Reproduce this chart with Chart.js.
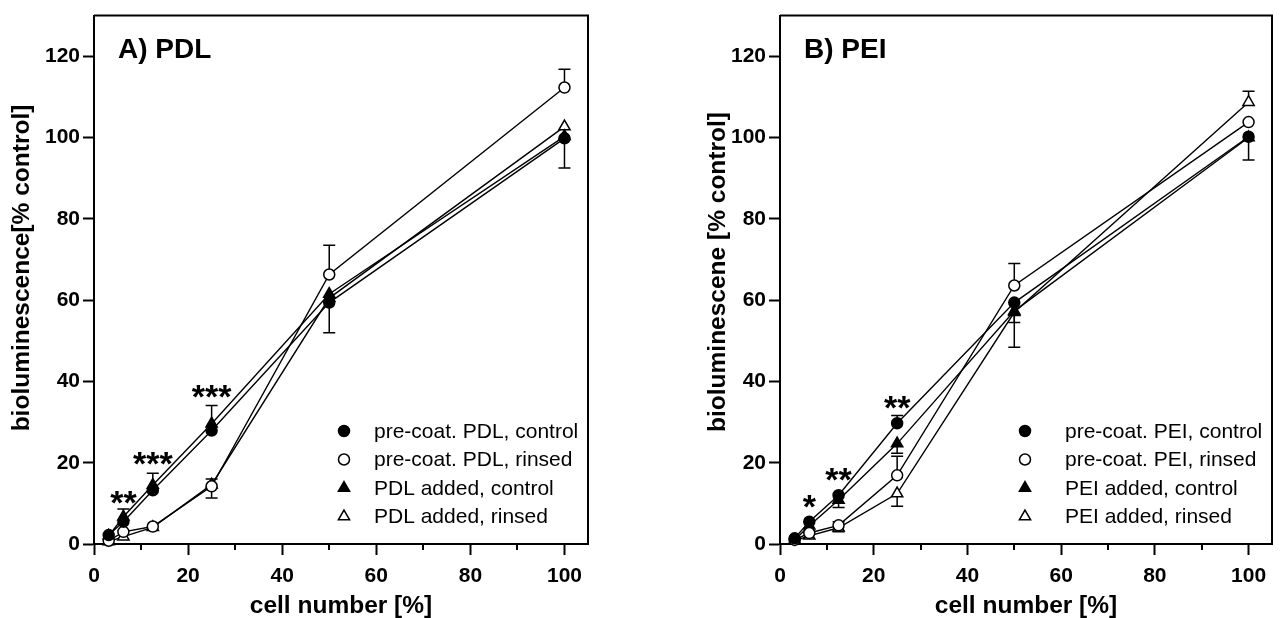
<!DOCTYPE html>
<html><head><meta charset="utf-8">
<script src="https://cdn.jsdelivr.net/npm/chart.js@4.4.1/dist/chart.umd.min.js"></script>
<style>
html,body{margin:0;padding:0;background:#fff;}
#wrap{position:relative;width:1280px;height:618px;overflow:hidden;}
.panel{position:absolute;top:0;width:640px;height:618px;}
</style></head><body>
<div id="wrap">
<div class="panel" style="left:0"><canvas id="cA" width="640" height="618"></canvas></div>
<div class="panel" style="left:640px"><canvas id="cB" width="640" height="618"></canvas></div>
</div>
<script>
// ---------- data ----------
const cellNumbers = [3.125, 6.25, 12.5, 25, 50, 100];
const xTicks = [0, 20, 40, 60, 80, 100];
const xMinorTicks = [10, 30, 50, 70, 90];
const yTicks = [0, 20, 40, 60, 80, 100, 120];

// Panel A: PDL
const pdlPreCoatControl      = [2.2, 5.5, 13.2, 27.9, 59.4, 99.8];
const pdlPreCoatControlUp    = [0, 0, 0, 0, 0, 0];
const pdlPreCoatControlDown  = [0, 0, 0, 0, 7.4, 7.3];
const pdlPreCoatRinsed       = [0.8, 3.0, 4.3, 14.2, 66.3, 112.3];
const pdlPreCoatRinsedUp     = [0, 0, 0, 1.8, 7.2, 4.5];
const pdlPreCoatRinsedDown   = [0, 0, 0, 0, 0, 0];
const pdlAddedControl        = [2.0, 6.7, 14.5, 29.6, 61.5, 100.3];
const pdlAddedControlUp      = [0, 1.9, 2.9, 4.5, 0, 0];
const pdlAddedControlDown    = [0, 0, 0, 0, 0, 0];
const pdlAddedRinsed         = [0.6, 1.8, 4.1, 14.6, 60.5, 102.7];
const pdlAddedRinsedUp       = [0, 0, 0, 0, 0, 0];
const pdlAddedRinsedDown     = [0, 0, 0, 3.3, 0, 0];
const pdlSigX    = [6.25, 12.5, 25];
const pdlSigY    = [11.6, 21.2, 37.6];
const pdlSigText = ['**', '***', '***'];

// Panel B: PEI
const peiPreCoatControl      = [1.4, 5.5, 12.0, 29.7, 59.4, 100.2];
const peiPreCoatControlUp    = [0, 0, 0, 1.9, 0, 0];
const peiPreCoatControlDown  = [0, 0, 0, 0, 11.0, 5.7];
const peiPreCoatRinsed       = [1.0, 2.7, 4.6, 16.9, 63.6, 103.8];
const peiPreCoatRinsedUp     = [0, 0, 0.9, 4.7, 5.4, 0];
const peiPreCoatRinsedDown   = [0, 0, 0, 0, 0, 0];
const peiAddedControl        = [1.0, 4.5, 10.8, 24.7, 57.3, 100.0];
const peiAddedControlUp      = [0, 0, 0, 0, 0, 0];
const peiAddedControlDown    = [0, 0, 1.8, 2.4, 2.8, 0];
const peiAddedRinsed         = [0.8, 2.0, 4.0, 12.4, 57.0, 108.7];
const peiAddedRinsedUp       = [0, 0, 0, 0, 0, 2.7];
const peiAddedRinsedDown     = [0, 0, 1.0, 3.1, 0, 0];
const peiSigX    = [6.25, 12.5, 25];
const peiSigY    = [10.6, 17.2, 34.9];
const peiSigText = ['*', '**', '**'];

// ---------- styling ----------
const FONT = "'Liberation Sans', Arial, Helvetica, sans-serif";

function series(label, vals, up, down, style, filled) {
  return {
    label: label,
    data: cellNumbers.map((x, i) => ({ x: x, y: vals[i] })),
    errUp: up, errDown: down,
    borderColor: '#000', borderWidth: 1.4,
    pointStyle: style,
    pointRadius: style === 'triangle' ? 6.5 : 5.5,
    pointHoverRadius: style === 'triangle' ? 6.5 : 5.5,
    pointBackgroundColor: filled ? '#000' : '#fff',
    pointBorderColor: '#000', pointBorderWidth: 1.5,
    fill: false, tension: 0, clip: false,
    mkFilled: filled
  };
}

function drawMarker(ctx, style, filled, x, y, r) {
  ctx.save();
  ctx.beginPath();
  if (style === 'triangle') {
    let rad = 0;
    for (let k = 0; k < 3; k++) {
      const px = x + Math.sin(rad) * r, py = y - Math.cos(rad) * r;
      if (k === 0) ctx.moveTo(px, py); else ctx.lineTo(px, py);
      rad += 2 * Math.PI / 3;
    }
    ctx.closePath();
  } else {
    ctx.arc(x, y, r, 0, Math.PI * 2);
  }
  ctx.fillStyle = filled ? '#000' : '#fff';
  ctx.fill();
  ctx.lineWidth = 1.5;
  ctx.strokeStyle = '#000';
  ctx.stroke();
  ctx.restore();
}

const errorBarPlugin = {
  id: 'errorBars',
  beforeDatasetsDraw(chart) {
    const ctx = chart.ctx, xs = chart.scales.x, ys = chart.scales.y;
    ctx.save();
    ctx.strokeStyle = '#000';
    ctx.lineWidth = 1.5;
    chart.data.datasets.forEach(ds => {
      ds.data.forEach((p, i) => {
        const px = xs.getPixelForValue(p.x);
        const py = ys.getPixelForValue(p.y);
        [[ds.errUp[i], 1], [ds.errDown[i], -1]].forEach(([e, dir]) => {
          if (!e) return;
          const ey = ys.getPixelForValue(p.y + dir * e);
          ctx.beginPath();
          ctx.moveTo(px, py); ctx.lineTo(px, ey);
          ctx.moveTo(px - 6, ey); ctx.lineTo(px + 6, ey);
          ctx.stroke();
        });
      });
    });
    ctx.restore();
  }
};

const framePlugin = {
  id: 'frame',
  afterDraw(chart, args, opts) {
    const ctx = chart.ctx, a = chart.chartArea, xs = chart.scales.x, ys = chart.scales.y;
    ctx.save();
    ctx.strokeStyle = '#000';
    ctx.lineWidth = 2;
    // top and right sides of the box
    ctx.beginPath();
    ctx.moveTo(a.left, a.top); ctx.lineTo(a.right, a.top); ctx.lineTo(a.right, a.bottom);
    ctx.stroke();
    // minor x ticks
    xMinorTicks.forEach(v => {
      const px = Math.round(xs.getPixelForValue(v));
      ctx.beginPath();
      ctx.moveTo(px, a.bottom); ctx.lineTo(px, a.bottom + 6);
      ctx.stroke();
    });
    ctx.fillStyle = '#000';
    // y axis title
    ctx.save();
    ctx.translate(opts.yTitleX, opts.yTitleY);
    ctx.rotate(-Math.PI / 2);
    ctx.font = 'bold 24.5px ' + FONT;
    ctx.textAlign = 'center';
    ctx.textBaseline = 'middle';
    ctx.fillText(opts.yTitle, 0, 0);
    ctx.restore();
    // x axis title
    ctx.font = 'bold 24.5px ' + FONT;
    ctx.textAlign = 'center';
    ctx.textBaseline = 'middle';
    ctx.fillText(opts.xTitle, (a.left + a.right) / 2, 606);
    // panel label
    ctx.font = 'bold 28px ' + FONT;
    ctx.textBaseline = 'alphabetic';
    ctx.textAlign = 'left';
    ctx.fillText(opts.title, a.left + 24, 58);
    // significance stars
    ctx.font = 'bold 34px ' + FONT;
    ctx.textAlign = 'center';
    opts.sigX.forEach((sx, i) => {
      const px = xs.getPixelForValue(sx), py = ys.getPixelForValue(opts.sigY[i]);
      ctx.fillText(opts.sigText[i], px, py + 17);
    });
    // legend
    ctx.font = '21px ' + FONT;
    ctx.textAlign = 'left';
    ctx.textBaseline = 'middle';
    chart.data.datasets.forEach((ds, i) => {
      const y = opts.legendY[i];
      drawMarker(ctx, ds.pointStyle, ds.mkFilled, opts.legendMarkerX, y, ds.pointStyle === 'triangle' ? 6.5 : 5.5);
      ctx.fillStyle = '#000';
      ctx.fillText(ds.label, opts.legendTextX, y + 1);
    });
    ctx.restore();
  }
};

function makeChart(id, datasets, padLeft, yWidth, padRight, frameOpts) {
  return new Chart(document.getElementById(id), {
    type: 'line',
    data: { datasets: datasets },
    plugins: [errorBarPlugin, framePlugin],
    options: {
      responsive: false,
      animation: false,
      events: [],
      layout: { padding: { left: padLeft, right: padRight, top: 14, bottom: 0 } },
      plugins: {
        legend: { display: false },
        tooltip: { enabled: false },
        frame: frameOpts
      },
      scales: {
        x: {
          type: 'linear', min: 0, max: 105,
          afterBuildTicks: s => { s.ticks = xTicks.map(v => ({ value: v })); },
          afterFit: s => { s.height = 74; },
          grid: { drawOnChartArea: false, drawTicks: true, tickLength: 11, tickWidth: 2, tickColor: '#000' },
          border: { display: true, color: '#000', width: 2 },
          ticks: { color: '#000', font: { family: FONT, size: 21, weight: 'bold' }, padding: 9, maxRotation: 0 },
          title: { display: false }
        },
        y: {
          type: 'linear', min: 0, max: 130,
          afterBuildTicks: s => { s.ticks = yTicks.map(v => ({ value: v })); },
          afterFit: s => { s.width = yWidth; },
          grid: { drawOnChartArea: false, drawTicks: true, tickLength: 11, tickWidth: 2, tickColor: '#000' },
          border: { display: true, color: '#000', width: 2 },
          ticks: { color: '#000', font: { family: FONT, size: 21, weight: 'bold' }, padding: 3 },
          title: { display: false }
        }
      }
    }
  });
}

const legendRows = [431, 459.5, 488, 516.5];

makeChart('cA', [
  series('pre-coat. PDL, control', pdlPreCoatControl, pdlPreCoatControlUp, pdlPreCoatControlDown, 'circle', true),
  series('pre-coat. PDL, rinsed', pdlPreCoatRinsed, pdlPreCoatRinsedUp, pdlPreCoatRinsedDown, 'circle', false),
  series('PDL added, control', pdlAddedControl, pdlAddedControlUp, pdlAddedControlDown, 'triangle', true),
  series('PDL added, rinsed', pdlAddedRinsed, pdlAddedRinsedUp, pdlAddedRinsedDown, 'triangle', false)
], 0, 94, 52, {
  title: 'A) PDL', sigX: pdlSigX, sigY: pdlSigY, sigText: pdlSigText,
  xTitle: 'cell number [%]',
  yTitle: 'bioluminescence[% control]', yTitleX: 22, yTitleY: 268,
  legendY: legendRows, legendMarkerX: 344, legendTextX: 374
});

makeChart('cB', [
  series('pre-coat. PEI, control', peiPreCoatControl, peiPreCoatControlUp, peiPreCoatControlDown, 'circle', true),
  series('pre-coat. PEI, rinsed', peiPreCoatRinsed, peiPreCoatRinsedUp, peiPreCoatRinsedDown, 'circle', false),
  series('PEI added, control', peiAddedControl, peiAddedControlUp, peiAddedControlDown, 'triangle', true),
  series('PEI added, rinsed', peiAddedRinsed, peiAddedRinsedUp, peiAddedRinsedDown, 'triangle', false)
], 0, 140, 4, {
  title: 'B) PEI', sigX: peiSigX, sigY: peiSigY, sigText: peiSigText,
  xTitle: 'cell number [%]',
  yTitle: 'bioluminescene [% control]', yTitleX: 78, yTitleY: 272,
  legendY: legendRows, legendMarkerX: 385, legendTextX: 425
});
</script>
</body></html>
